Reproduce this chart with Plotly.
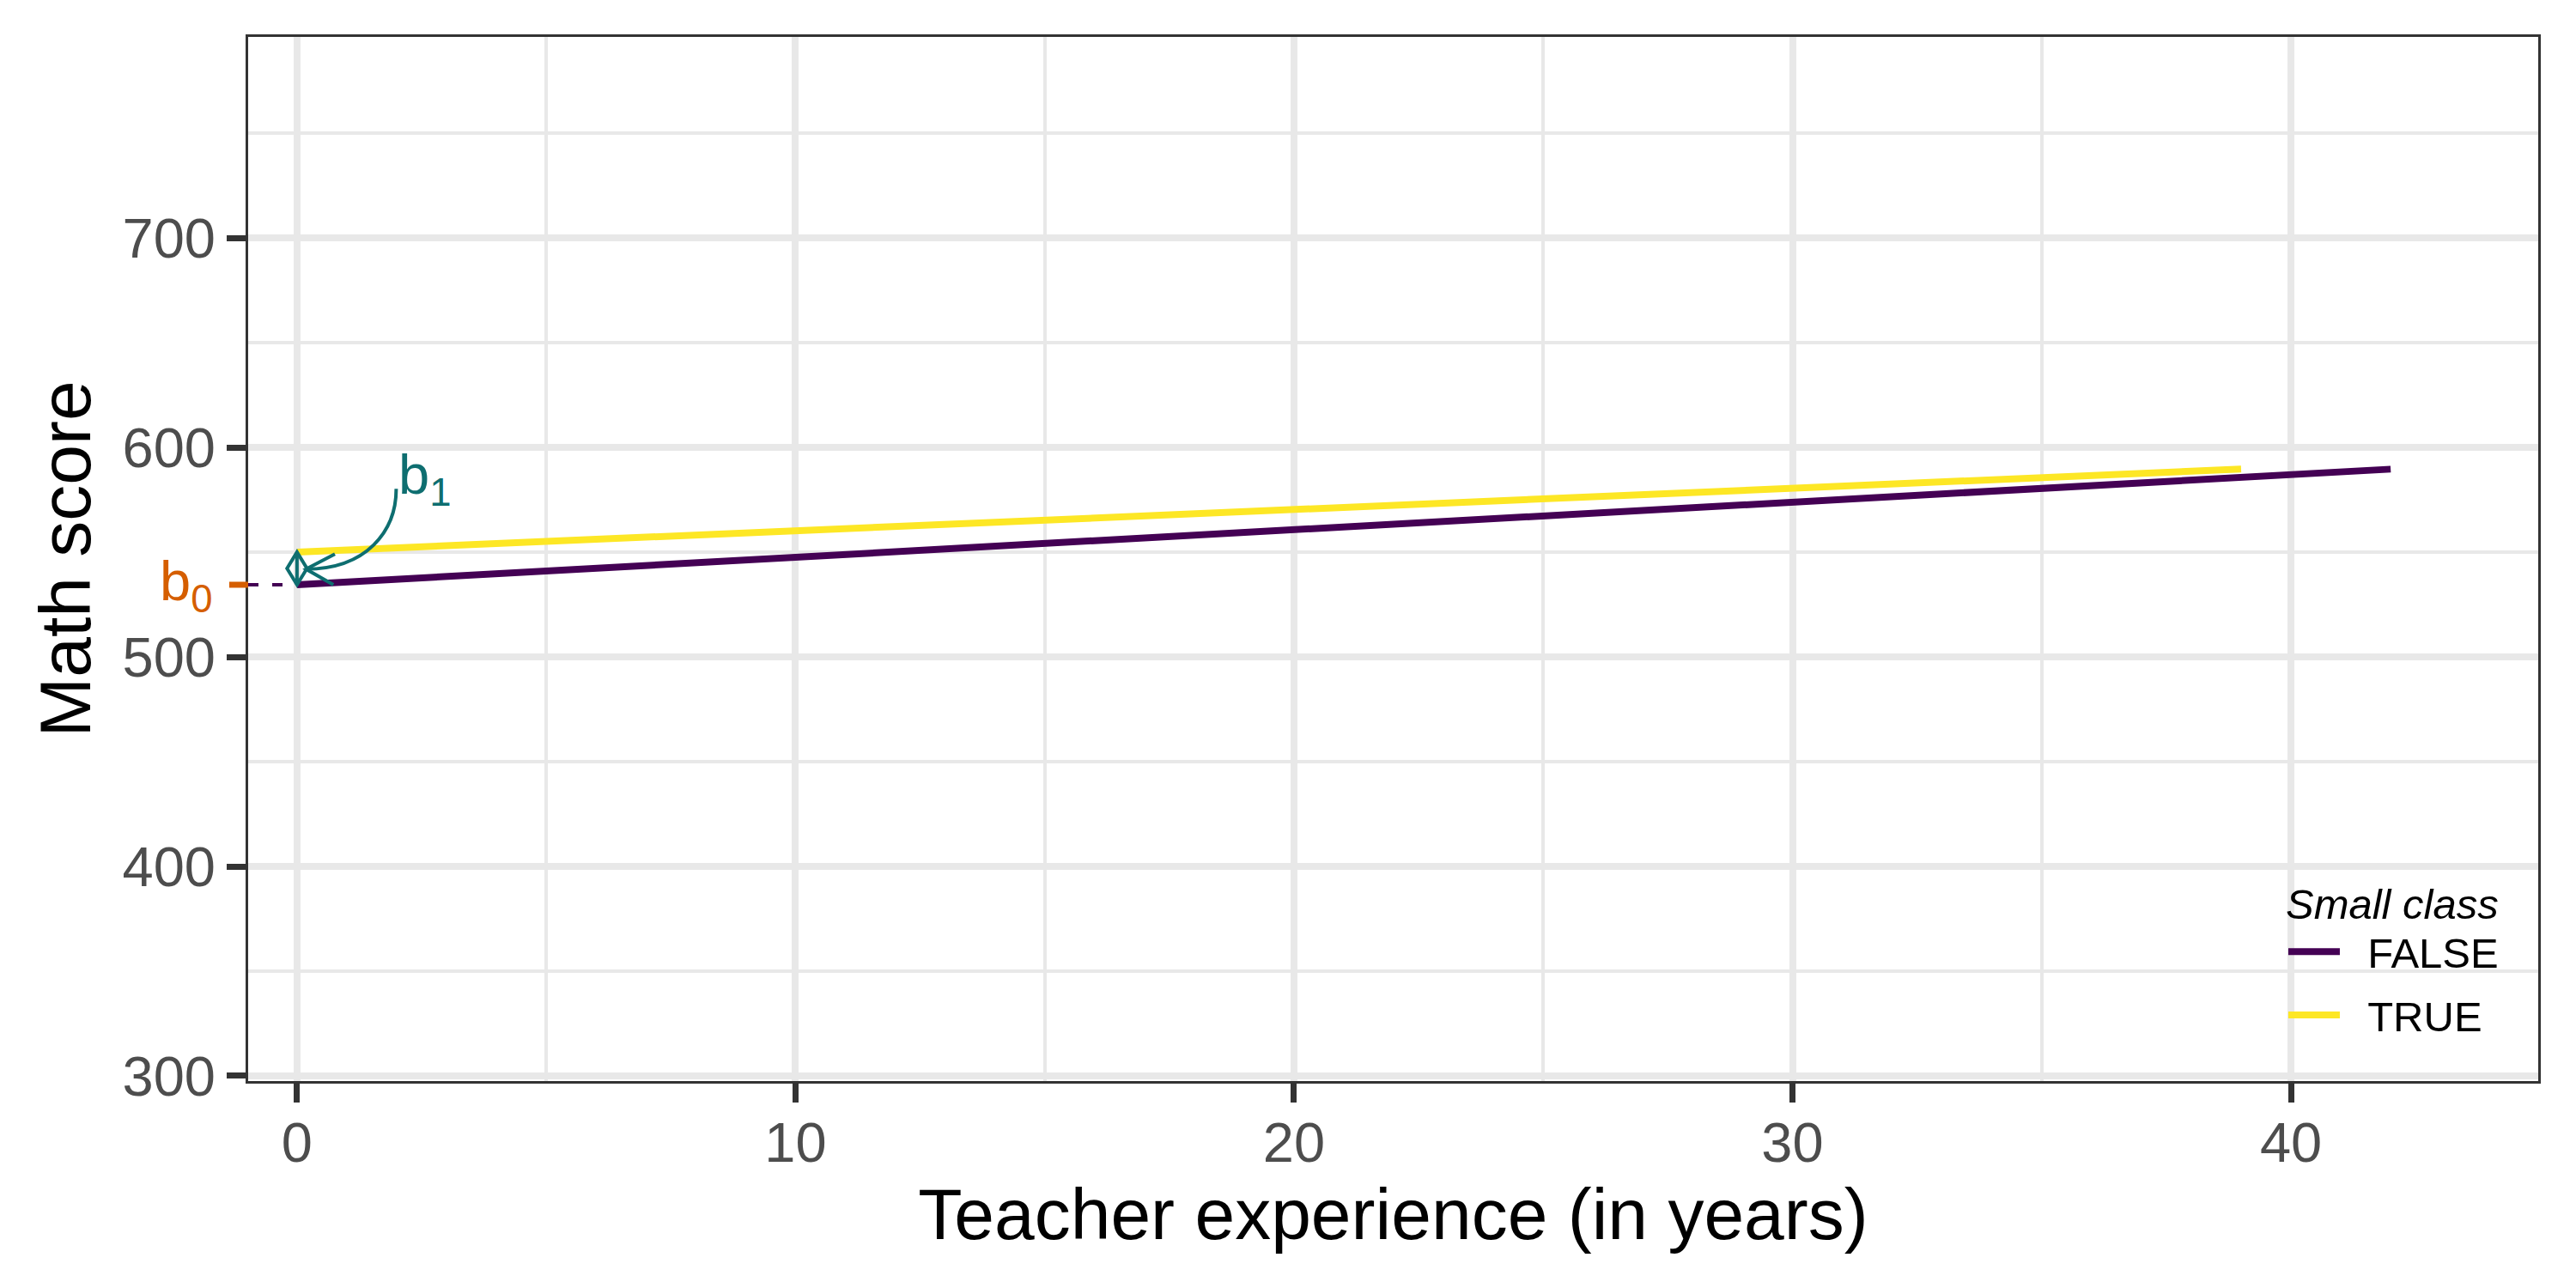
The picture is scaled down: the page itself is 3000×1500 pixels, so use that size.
import plotly.graph_objects as go

# fitted lines per class size
EXPERIENCE_FALSE = [0, 42]
SCORE_FALSE = [534.5, 589.7]
EXPERIENCE_TRUE = [0, 39]
SCORE_TRUE = [550.1, 589.7]
GROUP_NAMES = ["FALSE", "TRUE"]

B0 = SCORE_FALSE[0]
B1 = SCORE_TRUE[0] - SCORE_FALSE[0]

X_RANGE = [-0.98, 44.96]
Y_RANGE = [297.5, 796.1]
X_TICKS = [0, 10, 20, 30, 40]
Y_TICKS = [300, 400, 500, 600, 700]

# b1 label / curved arrow anchors (data units)
B1_LABEL = (2.0, 585.0)
CURVE_START = (1.99, 580.3)
CURVE_TIP = (0.18, 542.0)

PURPLE = "#440154"
YELLOW = "#FDE725"
ORANGE = "#D55E00"
TEAL = "#0E6E70"
GRID = "#E8E8E8"
DARK = "#333333"
FONT = "Liberation Sans, Arial, sans-serif"

# the page body adds an 8px offset, so margins are shifted by it
PANEL_W = 2667

fig = go.Figure()
fig.add_trace(go.Scatter(
    x=[X_RANGE[0], 0], y=[B0, B0], mode="lines", showlegend=False,
    line=dict(color=PURPLE, width=4, dash="12px,16px"),
))
fig.add_trace(go.Scatter(
    x=EXPERIENCE_FALSE, y=SCORE_FALSE, mode="lines", name="&nbsp;&nbsp;" + GROUP_NAMES[0],
    legendgroup="false", line=dict(color=PURPLE, width=8),
))
fig.add_trace(go.Scatter(
    x=EXPERIENCE_TRUE, y=SCORE_TRUE, mode="lines", name="&nbsp;&nbsp;" + GROUP_NAMES[1],
    legendgroup="true", line=dict(color=YELLOW, width=8),
))

# double-headed arrow between the two intercepts (b1)
mid = B0 + B1 / 2
half_w = 0.2
fig.add_shape(type="path", xref="x", yref="y", line=dict(color=TEAL, width=4),
              path=f"M 0,{B0} L 0,{B0 + B1}")
fig.add_shape(type="path", xref="x", yref="y", line=dict(color=TEAL, width=4),
              path=f"M 0,{B0} L {-half_w},{mid} L 0,{B0 + B1} L {half_w},{mid} Z")

# curved arrow from the b1 label
sx, sy = CURVE_START
tx, ty = CURVE_TIP
fig.add_shape(type="path", xref="x", yref="y", line=dict(color=TEAL, width=4),
              path=f"M {sx},{sy} C {sx},{sy - 20.3} {sx - 0.6},{ty} {tx},{ty}")
fig.add_shape(type="path", xref="x", yref="y", line=dict(color=TEAL, width=4),
              path=f"M {tx + 0.58},{ty + 7.2} L {tx},{ty} L {tx + 0.55},{ty - 7.5}")
fig.add_annotation(x=B1_LABEL[0], y=B1_LABEL[1], xref="x", yref="y", text="b<sub>1</sub>",
                   showarrow=False, xanchor="left", yanchor="middle",
                   font=dict(family=FONT, size=65, color=TEAL))

# b0 tick + label on the y axis
tick_len = 22 / PANEL_W
fig.add_shape(type="line", xref="paper", yref="y", x0=-tick_len, x1=0, y0=B0, y1=B0,
              line=dict(color=ORANGE, width=7))
fig.add_annotation(x=-40 / PANEL_W, y=B0, xref="paper", yref="y", text="b<sub>0</sub>",
                   showarrow=False, xanchor="right", yanchor="middle",
                   font=dict(family=FONT, size=65, color=ORANGE))

axis_common = dict(
    showgrid=True, gridcolor=GRID, gridwidth=8, zeroline=False,
    showline=True, mirror=True, linecolor=DARK, linewidth=3,
    ticks="outside", ticklen=22, tickwidth=7, tickcolor=DARK,
    tickfont=dict(family=FONT, size=65, color="#4D4D4D"),
)
fig.update_xaxes(
    range=X_RANGE, tickvals=X_TICKS, **axis_common, ticklabelstandoff=-9,
    minor=dict(dtick=5, tick0=0, showgrid=True, gridcolor=GRID, gridwidth=4, ticks=""),
    title=dict(text="Teacher experience (in years)", font=dict(family=FONT, size=84, color="black"), standoff=18),
)
fig.update_yaxes(
    range=Y_RANGE, tickvals=Y_TICKS, **axis_common,
    minor=dict(dtick=50, tick0=0, showgrid=True, gridcolor=GRID, gridwidth=4, ticks=""),
    title=dict(text="Math score", font=dict(family=FONT, size=84, color="black"), standoff=10),
)

fig.update_layout(
    width=3000, height=1500,
    margin=dict(l=281, r=52, t=35, b=249, autoexpand=False),
    paper_bgcolor="white", plot_bgcolor="white",
    font=dict(family=FONT, color="black"),
    legend=dict(
        title=dict(text="<i>Small class</i>", font=dict(family=FONT, size=49, color="black")),
        font=dict(family=FONT, size=49, color="black"),
        x=0.889, xanchor="left", y=0.031, yanchor="bottom",
        itemwidth=60, tracegroupgap=7,
        bgcolor="rgba(0,0,0,0)",
    ),
)

fig.write_html("out.html")
